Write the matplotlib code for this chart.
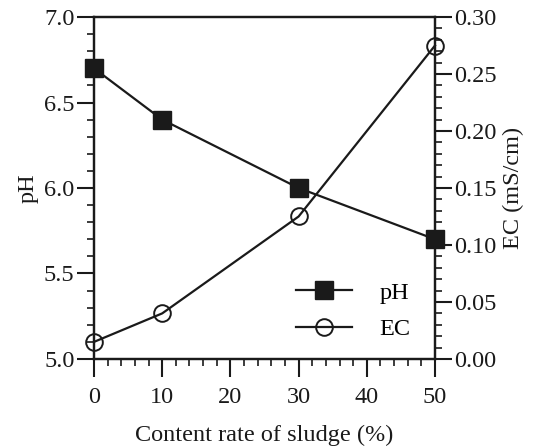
import matplotlib
matplotlib.use("Agg")
import matplotlib.pyplot as plt
from matplotlib.ticker import MultipleLocator

plt.rcParams['font.family'] = ['Liberation Serif', 'DejaVu Serif']

content = [0, 10, 30, 50]
ph = [6.7, 6.4, 6.0, 5.7]
ec = [0.015, 0.04, 0.125, 0.275]

fig = plt.figure(figsize=(5.35, 4.48), dpi=100)
ax = fig.add_axes([0.1757, 0.1987, 0.6374, 0.7633])
ax2 = ax.twinx()

fs = 17.5
l1, = ax.plot(content, ph, color='#1a1a1a', lw=1.6, marker='s', ms=13,
              mfc='#1a1a1a', mec='#1a1a1a', label='pH', clip_on=False, zorder=5)
l2, = ax2.plot(content, ec, color='#1a1a1a', lw=1.6, marker='o', ms=12,
               mfc='none', mec='#1a1a1a', mew=1.4, label='EC', clip_on=False, zorder=5)

ax.set_xlim(0, 50)
ax.set_ylim(5.0, 7.0)
ax2.set_ylim(0.0, 0.30)

ax.xaxis.set_major_locator(MultipleLocator(10))
ax.xaxis.set_minor_locator(MultipleLocator(2))
ax.yaxis.set_major_locator(MultipleLocator(0.5))
ax.yaxis.set_minor_locator(MultipleLocator(0.1))
ax2.yaxis.set_major_locator(MultipleLocator(0.05))
ax2.yaxis.set_minor_locator(MultipleLocator(0.01))
ax.yaxis.set_major_formatter(plt.FormatStrFormatter('%.1f'))
ax2.yaxis.set_major_formatter(plt.FormatStrFormatter('%.2f'))

for a in (ax, ax2):
    for s in a.spines.values():
        s.set_linewidth(1.6)
        s.set_color('#1a1a1a')

ax.tick_params(axis='y', which='major', direction='out', length=12, width=1.5,
               labelsize=fs, colors='#1a1a1a', right=False, pad=2)
ax.tick_params(axis='x', which='major', direction='out', length=13, width=1.5,
               labelsize=fs, colors='#1a1a1a', top=False, pad=7)
ax.tick_params(axis='both', which='minor', direction='out', length=5, width=1.2,
               colors='#1a1a1a', top=False, right=False)
ax2.tick_params(axis='y', which='major', direction='out', length=12, width=1.5,
                labelsize=fs, colors='#1a1a1a', pad=2)
ax2.tick_params(axis='y', which='minor', direction='out', length=5, width=1.2,
                colors='#1a1a1a')

ax.set_xlabel('Content rate of sludge (%)', fontsize=fs, color='#1a1a1a', labelpad=12)
ax.set_ylabel('pH', fontsize=fs, color='#1a1a1a', labelpad=4)
ax2.set_ylabel('EC (mS/cm)', fontsize=fs, color='#1a1a1a', labelpad=4)

leg = ax2.legend([l1, l2], ['pH', 'EC'], loc='center left', bbox_to_anchor=(0.592, 0.14),
                 frameon=False, fontsize=fs, borderpad=0, borderaxespad=0,
                 handlelength=2.3, handletextpad=1.15, labelspacing=0.6)

fig.savefig('out.png', dpi=100)
